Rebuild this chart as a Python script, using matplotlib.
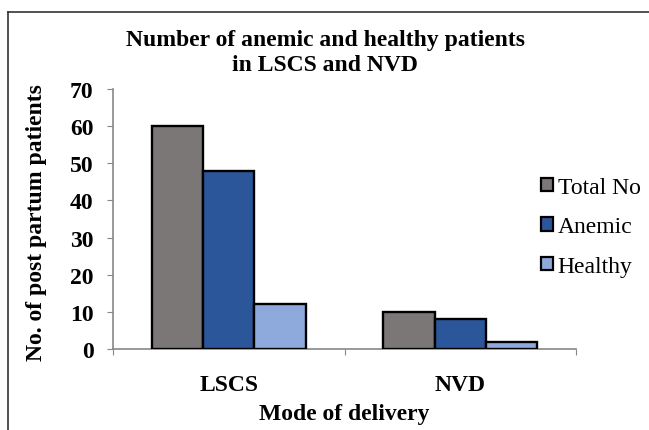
import matplotlib
matplotlib.use("Agg")
import matplotlib.pyplot as plt
import numpy as np
from matplotlib.lines import Line2D
from matplotlib.patches import Patch

categories = ["LSCS", "NVD"]
series_names = ["Total No", "Anemic", "Healthy"]
total_no = [60, 10]
anemic = [48, 8]
healthy = [12, 2]
y_ticks = [0, 10, 20, 30, 40, 50, 60, 70]

colors = ["#7a7776", "#2c569a", "#8eaadc"]

plt.rcParams['font.family'] = ['Liberation Serif', 'DejaVu Serif']

fig = plt.figure(figsize=(6.49, 4.31), dpi=100)
W, H = 649, 431
ax = fig.add_axes([113 / W, 1 - 350 / H, (576 - 113) / W, (350 - 90) / H])

x = np.arange(len(categories))
bw = 0.667 / 3
for i, (vals, c) in enumerate(zip([total_no, anemic, healthy], colors)):
    ax.bar(x + (i - 1) * bw, vals, width=bw, color=c, edgecolor="black",
           linewidth=1.7, label=series_names[i], zorder=3)

ax.set_xlim(-0.5, 1.5)
ax.set_ylim(0, 70)
ax.set_yticks(y_ticks)
ax.set_yticklabels([str(t) for t in y_ticks], fontsize=17, fontweight="bold")
ax.set_xticks([-0.5, 0.5, 1.5])
ax.set_xticklabels([])
ax.set_xticks(x, minor=True)
ax.set_xticklabels(categories, minor=True, fontsize=17, fontweight="bold")
ax.tick_params(axis="x", which="minor", length=0, pad=18)
ax.tick_params(axis="x", which="major", length=4, color="#888888", direction="out")
ax.tick_params(axis="y", length=4, color="#888888", direction="out", pad=10)
for s in ["top", "right"]:
    ax.spines[s].set_visible(False)
for s in ["left", "bottom"]:
    ax.spines[s].set_color("#888888")
    ax.spines[s].set_linewidth(1.2)

ax.set_ylabel("No. of post partum patients", fontsize=17, fontweight="bold")
ax.yaxis.set_label_coords((47 - 113) / 463, 0.49)
ax.set_xlabel("Mode of delivery", fontsize=17, fontweight="bold", labelpad=6)

fig.text(325 / W, 1 - 53 / H, "Number of anemic and healthy patients\nin LSCS and NVD",
         ha="center", va="center", fontsize=17, fontweight="bold", linespacing=1.22)

handles = [Patch(facecolor=c, edgecolor="black", linewidth=1.6) for c in colors]
leg = fig.legend(handles, series_names, loc="center left",
                 bbox_to_anchor=(541 / W, 1 - 228 / H), frameon=False,
                 fontsize=17, handlelength=0.5, handleheight=0.5,
                 handletextpad=0.2, labelspacing=0.78, borderpad=0, borderaxespad=0)

# figure frame lines (left and top)
fig.add_artist(Line2D([8 / W, 8 / W], [0, 1 - 13 / H], transform=fig.transFigure,
                      color="#333333", linewidth=1.2))
fig.add_artist(Line2D([8 / W, 1], [1 - 13 / H, 1 - 13 / H], transform=fig.transFigure,
                      color="#333333", linewidth=1.2))

fig.savefig("out.png", dpi=100)
